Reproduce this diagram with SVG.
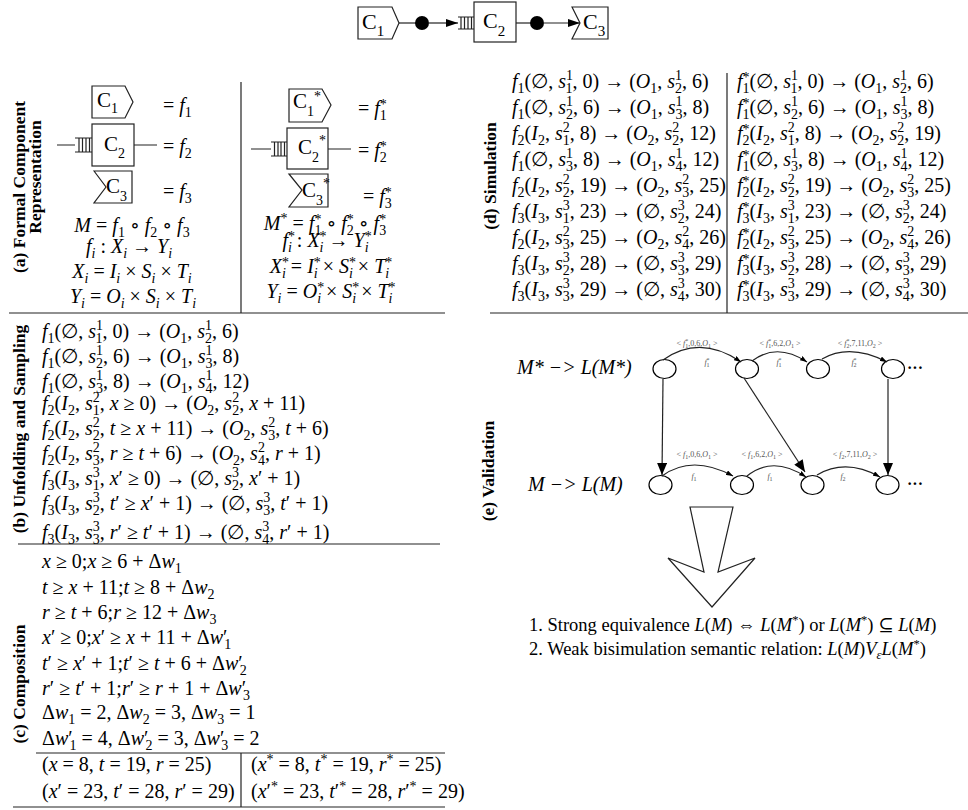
<svg xmlns="http://www.w3.org/2000/svg" width="968" height="810" viewBox="0 0 968 810">
<style>
.t{font-family:"Liberation Serif","DejaVu Serif",serif;font-size:20px;fill:#000}
.i{font-style:italic}
.s{font-size:14px}
.u{font-size:18.5px}
.s2{font-size:12.5px}
.big{font-size:20px}
.c{font-size:22px}
.cs{font-size:15px}
.lb{font-family:"Liberation Serif","DejaVu Serif",serif;font-weight:bold;font-size:17.5px;fill:#000}
.ln{stroke:#222;stroke-width:1.2;fill:none}
.bx{fill:#fff;stroke:#222;stroke-width:1.2}
.g{font-family:"Liberation Serif","DejaVu Serif",serif;font-size:8px;fill:#555}
.gs{font-size:6px}
.nd{fill:#fff;stroke:#000;stroke-width:1.2}
</style>
<defs>
<marker id="ah" viewBox="0 0 12 8" refX="12" refY="4" markerWidth="12" markerHeight="8" markerUnits="userSpaceOnUse" orient="auto"><path d="M0,0 L12,4 L0,8 z" fill="#000"/></marker>
<marker id="av" viewBox="0 0 12 10" refX="12" refY="5" markerWidth="14" markerHeight="10" markerUnits="userSpaceOnUse" orient="auto"><path d="M0,0 L12,5 L0,10 z" fill="#000"/></marker>
<marker id="as" viewBox="0 0 7 5" refX="7" refY="2.5" markerWidth="7" markerHeight="5" markerUnits="userSpaceOnUse" orient="auto"><path d="M0,0 L7,2.5 L0,5 z" fill="#000"/></marker>
</defs>

<!-- top strip -->
<g id="top-c1"><polygon class="bx" points="358,7 392,7 399,23 392,39 358,39"/><text class="t c" x="362" y="29">C<tspan class="cs" dy="7">1</tspan></text></g>
<g id="top-c2"><rect class="bx" x="474" y="2" width="42" height="40"/><text class="t c" x="483" y="28">C<tspan class="cs" dy="8">2</tspan></text></g>
<g id="top-c3"><polygon class="bx" points="572,7 580,23 572,39 608,39 608,7"/><text class="t c" x="583" y="29">C<tspan class="cs" dy="7">3</tspan></text></g>
<g id="top-connectors">
<line class="ln" x1="399" y1="23" x2="416" y2="23"/>
<circle cx="422" cy="23" r="7" fill="#000"/>
<line class="ln" x1="428" y1="23" x2="458" y2="23" marker-end="url(#ah)"/>
<path class="ln" d="M458,17 H474 M458,29 H474 M461,17 V29 M464.5,17 V29 M468,17 V29 M471.5,17 V29"/>
<line class="ln" x1="516" y1="23" x2="531" y2="23"/>
<circle cx="537" cy="23" r="7" fill="#000"/>
<line class="ln" x1="543" y1="23" x2="580" y2="23" marker-end="url(#ah)"/>
</g>

<!-- panel lines -->
<g id="panel-lines">
<line class="ln" x1="9" y1="313" x2="445" y2="313"/>
<line class="ln" x1="490" y1="313" x2="968" y2="313"/>
<line class="ln" x1="241" y1="82" x2="241" y2="313"/>
<line class="ln" x1="727" y1="73" x2="727" y2="313"/>
<line class="ln" x1="18" y1="544" x2="440" y2="544"/>
<line class="ln" x1="36" y1="753" x2="445" y2="753"/>
<line class="ln" x1="13" y1="807" x2="445" y2="807"/>
<line class="ln" x1="241" y1="753" x2="241" y2="807"/>
</g>

<!-- labels -->
<g id="labels">
<text class="lb" transform="translate(25,187) rotate(-90)" text-anchor="middle">(a) Formal Component</text>
<text class="lb" transform="translate(41,177) rotate(-90)" text-anchor="middle">Representation</text>
<text class="lb" transform="translate(25,429) rotate(-90)" text-anchor="middle">(b) Unfolding and Sampling</text>
<text class="lb" transform="translate(25,684) rotate(-90)" text-anchor="middle">(c) Composition</text>
<text class="lb" transform="translate(496,176) rotate(-90)" text-anchor="middle">(d) Simulation</text>
<text class="lb" transform="translate(494,471) rotate(-90)" text-anchor="middle">(e) Validation</text>
</g>

<!-- panel (a) -->
<g id="panel-a">
<g id="a-c1"><polygon class="bx" points="92,86 125,86 133,102 125,118 92,118"/><text class="t" style="font-size:21px" x="97" y="107">C<tspan class="s" dy="6">1</tspan></text></g>
<g id="a-c2"><rect class="bx" x="92" y="124" width="42" height="42"/><text class="t" style="font-size:21px" x="104" y="151">C<tspan class="s" dy="7">2</tspan></text>
<path class="ln" d="M57,145 H75 M75,138 H92 M75,152 H92 M79,138 V152 M82.5,138 V152 M86,138 V152 M89.5,138 V152 M134,145 H157"/></g>
<g id="a-c3"><polygon class="bx" points="94,171 106,187 94,203 132,203 132,171"/><text class="t" style="font-size:21px" x="106" y="193">C<tspan class="s" dy="8">3</tspan></text></g>
<text class="t" x="163" y="112">= <tspan class="i">f</tspan><tspan class="s" dy="5">1</tspan></text>
<text class="t" x="163" y="153">= <tspan class="i">f</tspan><tspan class="s" dy="5">2</tspan></text>
<text class="t" x="163" y="198">= <tspan class="i">f</tspan><tspan class="s" dy="5">3</tspan></text>
<text class="t" x="132" y="232" text-anchor="middle"><tspan class="i">M</tspan> = <tspan class="i">f</tspan><tspan class="s" dy="5">1</tspan><tspan dy="-5"> ∘ </tspan><tspan class="i">f</tspan><tspan class="s" dy="5">2</tspan><tspan dy="-5"> ∘ </tspan><tspan class="i">f</tspan><tspan class="s" dy="5">3</tspan></text>
<text class="t" x="129" y="253" text-anchor="middle"><tspan class="i">f</tspan><tspan class="s i" dy="5">i</tspan><tspan dy="-5"> : </tspan><tspan class="i">X</tspan><tspan class="s i" dy="5">i</tspan><tspan dy="-5"> → </tspan><tspan class="i">Y</tspan><tspan class="s i" dy="5">i</tspan></text>
<text class="t" x="132" y="278" text-anchor="middle"><tspan class="i">X</tspan><tspan class="s i" dy="5">i</tspan><tspan dy="-5"> = </tspan><tspan class="i">I</tspan><tspan class="s i" dy="5">i</tspan><tspan dy="-5"> × </tspan><tspan class="i">S</tspan><tspan class="s i" dy="5">i</tspan><tspan dy="-5"> × </tspan><tspan class="i">T</tspan><tspan class="s i" dy="5">i</tspan></text>
<text class="t" x="133" y="303" text-anchor="middle"><tspan class="i">Y</tspan><tspan class="s i" dy="5">i</tspan><tspan dy="-5"> = </tspan><tspan class="i">O</tspan><tspan class="s i" dy="5">i</tspan><tspan dy="-5"> × </tspan><tspan class="i">S</tspan><tspan class="s i" dy="5">i</tspan><tspan dy="-5"> × </tspan><tspan class="i">T</tspan><tspan class="s i" dy="5">i</tspan></text>

<g id="a-c1s"><polygon class="bx" points="289,89 322,89 331,105 322,122 289,122"/><text class="t" style="font-size:21px" x="293" y="108">C<tspan class="s" dy="8">1</tspan><tspan class="s" dy="-15">*</tspan></text></g>
<g id="a-c2s"><rect class="bx" x="287" y="128" width="41" height="41"/><text class="t" style="font-size:21px" x="298" y="154">C<tspan class="s" dy="8">2</tspan><tspan class="s" dy="-17">*</tspan></text>
<path class="ln" d="M251,149 H271 M271,142 H287 M271,156 H287 M274.5,142 V156 M278,142 V156 M281,142 V156 M284.5,142 V156 M328,149 H351"/></g>
<g id="a-c3s"><polygon class="bx" points="289,174 302,190 289,207 328,207 328,174"/><text class="t" style="font-size:21px" x="302" y="197">C<tspan class="s" dy="8">3</tspan><tspan class="s" dy="-17">*</tspan></text></g>
<text class="t" x="358" y="115">= <tspan class="i">f</tspan><tspan class="s" dy="-6">*</tspan><tspan class="s" dx="-7" dy="11">1</tspan></text>
<text class="t" x="358" y="157">= <tspan class="i">f</tspan><tspan class="s" dy="-6">*</tspan><tspan class="s" dx="-7" dy="11">2</tspan></text>
<text class="t" x="363" y="203">= <tspan class="i">f</tspan><tspan class="s" dy="-6">*</tspan><tspan class="s" dx="-7" dy="11">3</tspan></text>
<text class="t" x="325" y="230" text-anchor="middle"><tspan class="i">M</tspan><tspan class="s" dy="-7">*</tspan><tspan dy="7"> = </tspan><tspan class="i">f</tspan><tspan class="s" dy="-6">*</tspan><tspan class="s" dx="-7" dy="11">1</tspan><tspan dy="-5"> ∘ </tspan><tspan class="i">f</tspan><tspan class="s" dy="-6">*</tspan><tspan class="s" dx="-7" dy="11">2</tspan><tspan dy="-5"> ∘ </tspan><tspan class="i">f</tspan><tspan class="s" dy="-6">*</tspan><tspan class="s" dx="-7" dy="11">3</tspan></text>
<text class="t" x="327" y="247" text-anchor="middle"><tspan class="i">f</tspan><tspan class="s" dy="-6">*</tspan><tspan class="s i" dx="-7" dy="11">i</tspan><tspan dy="-5"> : </tspan><tspan class="i">X</tspan><tspan class="s" dy="-6">*</tspan><tspan class="s i" dx="-7" dy="11">i</tspan><tspan dy="-5"> → </tspan><tspan class="i">Y</tspan><tspan class="s" dy="-6">*</tspan><tspan class="s i" dx="-7" dy="11">i</tspan></text>
<text class="t" x="331" y="273" text-anchor="middle"><tspan class="i">X</tspan><tspan class="s" dy="-6">*</tspan><tspan class="s i" dx="-7" dy="11">i</tspan><tspan dy="-5"> = </tspan><tspan class="i">I</tspan><tspan class="s" dy="-6">*</tspan><tspan class="s i" dx="-7" dy="11">i</tspan><tspan dy="-5"> × </tspan><tspan class="i">S</tspan><tspan class="s" dy="-6">*</tspan><tspan class="s i" dx="-7" dy="11">i</tspan><tspan dy="-5"> × </tspan><tspan class="i">T</tspan><tspan class="s" dy="-6">*</tspan><tspan class="s i" dx="-7" dy="11">i</tspan></text>
<text class="t" x="331" y="298" text-anchor="middle"><tspan class="i">Y</tspan><tspan class="s i" dy="5">i</tspan><tspan dy="-5"> = </tspan><tspan class="i">O</tspan><tspan class="s" dy="-6">*</tspan><tspan class="s i" dx="-7" dy="11">i</tspan><tspan dy="-5"> × </tspan><tspan class="i">S</tspan><tspan class="s" dy="-6">*</tspan><tspan class="s i" dx="-7" dy="11">i</tspan><tspan dy="-5"> × </tspan><tspan class="i">T</tspan><tspan class="s" dy="-6">*</tspan><tspan class="s i" dx="-7" dy="11">i</tspan></text>
</g>

<!-- panel (b) -->
<g id="panel-b">
<text class="t" x="42" y="338"><tspan class="i">f</tspan><tspan class="s" dy="5">1</tspan><tspan dy="-5">(∅, </tspan><tspan class="i">s</tspan><tspan class="s" dy="-8">1</tspan><tspan class="s" dx="-7" dy="13">1</tspan><tspan dy="-5">, 0) → (</tspan><tspan class="i">O</tspan><tspan class="s" dy="5">1</tspan><tspan dy="-5">, </tspan><tspan class="i">s</tspan><tspan class="s" dy="-8">1</tspan><tspan class="s" dx="-7" dy="13">2</tspan><tspan dy="-5">, 6)</tspan></text>
<text class="t" x="42" y="363"><tspan class="i">f</tspan><tspan class="s" dy="5">1</tspan><tspan dy="-5">(∅, </tspan><tspan class="i">s</tspan><tspan class="s" dy="-8">1</tspan><tspan class="s" dx="-7" dy="13">2</tspan><tspan dy="-5">, 6) → (</tspan><tspan class="i">O</tspan><tspan class="s" dy="5">1</tspan><tspan dy="-5">, </tspan><tspan class="i">s</tspan><tspan class="s" dy="-8">1</tspan><tspan class="s" dx="-7" dy="13">3</tspan><tspan dy="-5">, 8)</tspan></text>
<text class="t" x="42" y="388"><tspan class="i">f</tspan><tspan class="s" dy="5">1</tspan><tspan dy="-5">(∅, </tspan><tspan class="i">s</tspan><tspan class="s" dy="-8">1</tspan><tspan class="s" dx="-7" dy="13">3</tspan><tspan dy="-5">, 8) → (</tspan><tspan class="i">O</tspan><tspan class="s" dy="5">1</tspan><tspan dy="-5">, </tspan><tspan class="i">s</tspan><tspan class="s" dy="-8">1</tspan><tspan class="s" dx="-7" dy="13">4</tspan><tspan dy="-5">, 12)</tspan></text>
<text class="t" x="42" y="410"><tspan class="i">f</tspan><tspan class="s" dy="5">2</tspan><tspan dy="-5">(</tspan><tspan class="i">I</tspan><tspan class="s" dy="5">2</tspan><tspan dy="-5">, </tspan><tspan class="i">s</tspan><tspan class="s" dy="-8">2</tspan><tspan class="s" dx="-7" dy="13">1</tspan><tspan dy="-5">, </tspan><tspan class="i">x</tspan> ≥ 0) → (<tspan class="i">O</tspan><tspan class="s" dy="5">2</tspan><tspan dy="-5">, </tspan><tspan class="i">s</tspan><tspan class="s" dy="-8">2</tspan><tspan class="s" dx="-7" dy="13">2</tspan><tspan dy="-5">, </tspan><tspan class="i">x</tspan> + 11)</text>
<text class="t" x="42" y="435"><tspan class="i">f</tspan><tspan class="s" dy="5">2</tspan><tspan dy="-5">(</tspan><tspan class="i">I</tspan><tspan class="s" dy="5">2</tspan><tspan dy="-5">, </tspan><tspan class="i">s</tspan><tspan class="s" dy="-8">2</tspan><tspan class="s" dx="-7" dy="13">2</tspan><tspan dy="-5">, </tspan><tspan class="i">t</tspan> ≥ <tspan class="i">x</tspan> + 11) → (<tspan class="i">O</tspan><tspan class="s" dy="5">2</tspan><tspan dy="-5">, </tspan><tspan class="i">s</tspan><tspan class="s" dy="-8">2</tspan><tspan class="s" dx="-7" dy="13">3</tspan><tspan dy="-5">, </tspan><tspan class="i">t</tspan> + 6)</text>
<text class="t" x="42" y="460"><tspan class="i">f</tspan><tspan class="s" dy="5">2</tspan><tspan dy="-5">(</tspan><tspan class="i">I</tspan><tspan class="s" dy="5">2</tspan><tspan dy="-5">, </tspan><tspan class="i">s</tspan><tspan class="s" dy="-8">2</tspan><tspan class="s" dx="-7" dy="13">3</tspan><tspan dy="-5">, </tspan><tspan class="i">r</tspan> ≥ <tspan class="i">t</tspan> + 6) → (<tspan class="i">O</tspan><tspan class="s" dy="5">2</tspan><tspan dy="-5">, </tspan><tspan class="i">s</tspan><tspan class="s" dy="-8">2</tspan><tspan class="s" dx="-7" dy="13">4</tspan><tspan dy="-5">, </tspan><tspan class="i">r</tspan> + 1)</text>
<text class="t" x="42" y="485"><tspan class="i">f</tspan><tspan class="s" dy="5">3</tspan><tspan dy="-5">(</tspan><tspan class="i">I</tspan><tspan class="s" dy="5">3</tspan><tspan dy="-5">, </tspan><tspan class="i">s</tspan><tspan class="s" dy="-8">3</tspan><tspan class="s" dx="-7" dy="13">1</tspan><tspan dy="-5">, </tspan><tspan class="i">x</tspan>′ ≥ 0) → (∅, <tspan class="i">s</tspan><tspan class="s" dy="-8">3</tspan><tspan class="s" dx="-7" dy="13">2</tspan><tspan dy="-5">, </tspan><tspan class="i">x</tspan>′ + 1)</text>
<text class="t" x="42" y="510"><tspan class="i">f</tspan><tspan class="s" dy="5">3</tspan><tspan dy="-5">(</tspan><tspan class="i">I</tspan><tspan class="s" dy="5">3</tspan><tspan dy="-5">, </tspan><tspan class="i">s</tspan><tspan class="s" dy="-8">3</tspan><tspan class="s" dx="-7" dy="13">2</tspan><tspan dy="-5">, </tspan><tspan class="i">t</tspan>′ ≥ <tspan class="i">x</tspan>′ + 1) → (∅, <tspan class="i">s</tspan><tspan class="s" dy="-8">3</tspan><tspan class="s" dx="-7" dy="13">3</tspan><tspan dy="-5">, </tspan><tspan class="i">t</tspan>′ + 1)</text>
<text class="t" x="42" y="539"><tspan class="i">f</tspan><tspan class="s" dy="5">3</tspan><tspan dy="-5">(</tspan><tspan class="i">I</tspan><tspan class="s" dy="5">3</tspan><tspan dy="-5">, </tspan><tspan class="i">s</tspan><tspan class="s" dy="-8">3</tspan><tspan class="s" dx="-7" dy="13">3</tspan><tspan dy="-5">, </tspan><tspan class="i">r</tspan>′ ≥ <tspan class="i">t</tspan>′ + 1) → (∅, <tspan class="i">s</tspan><tspan class="s" dy="-8">3</tspan><tspan class="s" dx="-7" dy="13">4</tspan><tspan dy="-5">, </tspan><tspan class="i">r</tspan>′ + 1)</text>
</g>

<!-- panel (c) -->
<g id="panel-c">
<text class="t" x="42" y="568"><tspan class="i">x</tspan> ≥ 0;<tspan class="i">x</tspan> ≥ 6 + Δ<tspan class="i">w</tspan><tspan class="s" dy="5">1</tspan></text>
<text class="t" x="42" y="594"><tspan class="i">t</tspan> ≥ <tspan class="i">x</tspan> + 11;<tspan class="i">t</tspan> ≥ 8 + Δ<tspan class="i">w</tspan><tspan class="s" dy="5">2</tspan></text>
<text class="t" x="42" y="619"><tspan class="i">r</tspan> ≥ <tspan class="i">t</tspan> + 6;<tspan class="i">r</tspan> ≥ 12 + Δ<tspan class="i">w</tspan><tspan class="s" dy="5">3</tspan></text>
<text class="t" x="42" y="644"><tspan class="i">x</tspan>′ ≥ 0;<tspan class="i">x</tspan>′ ≥ <tspan class="i">x</tspan> + 11 + Δ<tspan class="i">w</tspan>′<tspan class="s" dx="-3" dy="5">1</tspan></text>
<text class="t" x="42" y="670"><tspan class="i">t</tspan>′ ≥ <tspan class="i">x</tspan>′ + 1;<tspan class="i">t</tspan>′ ≥ <tspan class="i">t</tspan> + 6 + Δ<tspan class="i">w</tspan>′<tspan class="s" dx="-3" dy="5">2</tspan></text>
<text class="t" x="42" y="695"><tspan class="i">r</tspan>′ ≥ <tspan class="i">t</tspan>′ + 1;<tspan class="i">r</tspan>′ ≥ <tspan class="i">r</tspan> + 1 + Δ<tspan class="i">w</tspan>′<tspan class="s" dx="-3" dy="5">3</tspan></text>
<text class="t" x="42" y="719">Δ<tspan class="i">w</tspan><tspan class="s" dy="5">1</tspan><tspan dy="-5"> = 2, Δ</tspan><tspan class="i">w</tspan><tspan class="s" dy="5">2</tspan><tspan dy="-5"> = 3, Δ</tspan><tspan class="i">w</tspan><tspan class="s" dy="5">3</tspan><tspan dy="-5"> = 1</tspan></text>
<text class="t" x="42" y="745">Δ<tspan class="i">w</tspan>′<tspan class="s" dx="-3" dy="5">1</tspan><tspan dy="-5"> = 4, Δ</tspan><tspan class="i">w</tspan>′<tspan class="s" dx="-3" dy="5">2</tspan><tspan dy="-5"> = 3, Δ</tspan><tspan class="i">w</tspan>′<tspan class="s" dx="-3" dy="5">3</tspan><tspan dy="-5"> = 2</tspan></text>
<text class="t" x="42" y="771">(<tspan class="i">x</tspan> = 8, <tspan class="i">t</tspan> = 19, <tspan class="i">r</tspan> = 25)</text>
<text class="t" x="42" y="798">(<tspan class="i">x</tspan>′ = 23, <tspan class="i">t</tspan>′ = 28, <tspan class="i">r</tspan>′ = 29)</text>
<text class="t" x="251" y="771">(<tspan class="i">x</tspan><tspan class="s" dy="-7">*</tspan><tspan dy="7"> = 8, </tspan><tspan class="i">t</tspan><tspan class="s" dy="-7">*</tspan><tspan dy="7"> = 19, </tspan><tspan class="i">r</tspan><tspan class="s" dy="-7">*</tspan><tspan dy="7"> = 25)</tspan></text>
<text class="t" x="251" y="798">(<tspan class="i">x</tspan>′<tspan class="s" dy="-7">*</tspan><tspan dy="7"> = 23, </tspan><tspan class="i">t</tspan>′<tspan class="s" dy="-7">*</tspan><tspan dy="7"> = 28, </tspan><tspan class="i">r</tspan>′<tspan class="s" dy="-7">*</tspan><tspan dy="7"> = 29)</tspan></text>
</g>

<!-- panel (d) -->
<g id="panel-d">
<text class="t" x="512" y="88"><tspan class="i">f</tspan><tspan class="s" dy="5">1</tspan><tspan dy="-5">(∅, </tspan><tspan class="i">s</tspan><tspan class="s" dy="-8">1</tspan><tspan class="s" dx="-7" dy="13">1</tspan><tspan dy="-5">, 0) → (</tspan><tspan class="i">O</tspan><tspan class="s" dy="5">1</tspan><tspan dy="-5">, </tspan><tspan class="i">s</tspan><tspan class="s" dy="-8">1</tspan><tspan class="s" dx="-7" dy="13">2</tspan><tspan dy="-5">, 6)</tspan></text>
<text class="t" x="512" y="114"><tspan class="i">f</tspan><tspan class="s" dy="5">1</tspan><tspan dy="-5">(∅, </tspan><tspan class="i">s</tspan><tspan class="s" dy="-8">1</tspan><tspan class="s" dx="-7" dy="13">2</tspan><tspan dy="-5">, 6) → (</tspan><tspan class="i">O</tspan><tspan class="s" dy="5">1</tspan><tspan dy="-5">, </tspan><tspan class="i">s</tspan><tspan class="s" dy="-8">1</tspan><tspan class="s" dx="-7" dy="13">3</tspan><tspan dy="-5">, 8)</tspan></text>
<text class="t" x="512" y="140"><tspan class="i">f</tspan><tspan class="s" dy="5">2</tspan><tspan dy="-5">(</tspan><tspan class="i">I</tspan><tspan class="s" dy="5">2</tspan><tspan dy="-5">, </tspan><tspan class="i">s</tspan><tspan class="s" dy="-8">2</tspan><tspan class="s" dx="-7" dy="13">1</tspan><tspan dy="-5">, 8) → (</tspan><tspan class="i">O</tspan><tspan class="s" dy="5">2</tspan><tspan dy="-5">, </tspan><tspan class="i">s</tspan><tspan class="s" dy="-8">2</tspan><tspan class="s" dx="-7" dy="13">2</tspan><tspan dy="-5">, 12)</tspan></text>
<text class="t" x="512" y="166"><tspan class="i">f</tspan><tspan class="s" dy="5">1</tspan><tspan dy="-5">(∅, </tspan><tspan class="i">s</tspan><tspan class="s" dy="-8">1</tspan><tspan class="s" dx="-7" dy="13">3</tspan><tspan dy="-5">, 8) → (</tspan><tspan class="i">O</tspan><tspan class="s" dy="5">1</tspan><tspan dy="-5">, </tspan><tspan class="i">s</tspan><tspan class="s" dy="-8">1</tspan><tspan class="s" dx="-7" dy="13">4</tspan><tspan dy="-5">, 12)</tspan></text>
<text class="t" x="512" y="192"><tspan class="i">f</tspan><tspan class="s" dy="5">2</tspan><tspan dy="-5">(</tspan><tspan class="i">I</tspan><tspan class="s" dy="5">2</tspan><tspan dy="-5">, </tspan><tspan class="i">s</tspan><tspan class="s" dy="-8">2</tspan><tspan class="s" dx="-7" dy="13">2</tspan><tspan dy="-5">, 19) → (</tspan><tspan class="i">O</tspan><tspan class="s" dy="5">2</tspan><tspan dy="-5">, </tspan><tspan class="i">s</tspan><tspan class="s" dy="-8">2</tspan><tspan class="s" dx="-7" dy="13">3</tspan><tspan dy="-5">, 25)</tspan></text>
<text class="t" x="512" y="218"><tspan class="i">f</tspan><tspan class="s" dy="5">3</tspan><tspan dy="-5">(</tspan><tspan class="i">I</tspan><tspan class="s" dy="5">3</tspan><tspan dy="-5">, </tspan><tspan class="i">s</tspan><tspan class="s" dy="-8">3</tspan><tspan class="s" dx="-7" dy="13">1</tspan><tspan dy="-5">, 23) → (∅, </tspan><tspan class="i">s</tspan><tspan class="s" dy="-8">3</tspan><tspan class="s" dx="-7" dy="13">2</tspan><tspan dy="-5">, 24)</tspan></text>
<text class="t" x="512" y="244"><tspan class="i">f</tspan><tspan class="s" dy="5">2</tspan><tspan dy="-5">(</tspan><tspan class="i">I</tspan><tspan class="s" dy="5">2</tspan><tspan dy="-5">, </tspan><tspan class="i">s</tspan><tspan class="s" dy="-8">2</tspan><tspan class="s" dx="-7" dy="13">3</tspan><tspan dy="-5">, 25) → (</tspan><tspan class="i">O</tspan><tspan class="s" dy="5">2</tspan><tspan dy="-5">, </tspan><tspan class="i">s</tspan><tspan class="s" dy="-8">2</tspan><tspan class="s" dx="-7" dy="13">4</tspan><tspan dy="-5">, 26)</tspan></text>
<text class="t" x="512" y="270"><tspan class="i">f</tspan><tspan class="s" dy="5">3</tspan><tspan dy="-5">(</tspan><tspan class="i">I</tspan><tspan class="s" dy="5">3</tspan><tspan dy="-5">, </tspan><tspan class="i">s</tspan><tspan class="s" dy="-8">3</tspan><tspan class="s" dx="-7" dy="13">2</tspan><tspan dy="-5">, 28) → (∅, </tspan><tspan class="i">s</tspan><tspan class="s" dy="-8">3</tspan><tspan class="s" dx="-7" dy="13">3</tspan><tspan dy="-5">, 29)</tspan></text>
<text class="t" x="512" y="296"><tspan class="i">f</tspan><tspan class="s" dy="5">3</tspan><tspan dy="-5">(</tspan><tspan class="i">I</tspan><tspan class="s" dy="5">3</tspan><tspan dy="-5">, </tspan><tspan class="i">s</tspan><tspan class="s" dy="-8">3</tspan><tspan class="s" dx="-7" dy="13">3</tspan><tspan dy="-5">, 29) → (∅, </tspan><tspan class="i">s</tspan><tspan class="s" dy="-8">3</tspan><tspan class="s" dx="-7" dy="13">4</tspan><tspan dy="-5">, 30)</tspan></text>

<text class="t" x="737" y="88"><tspan class="i">f</tspan><tspan class="s" dy="-6">*</tspan><tspan class="s" dx="-7" dy="11">1</tspan><tspan dy="-5">(∅, </tspan><tspan class="i">s</tspan><tspan class="s" dy="-8">1</tspan><tspan class="s" dx="-7" dy="13">1</tspan><tspan dy="-5">, 0) → (</tspan><tspan class="i">O</tspan><tspan class="s" dy="5">1</tspan><tspan dy="-5">, </tspan><tspan class="i">s</tspan><tspan class="s" dy="-8">1</tspan><tspan class="s" dx="-7" dy="13">2</tspan><tspan dy="-5">, 6)</tspan></text>
<text class="t" x="737" y="114"><tspan class="i">f</tspan><tspan class="s" dy="-6">*</tspan><tspan class="s" dx="-7" dy="11">1</tspan><tspan dy="-5">(∅, </tspan><tspan class="i">s</tspan><tspan class="s" dy="-8">1</tspan><tspan class="s" dx="-7" dy="13">2</tspan><tspan dy="-5">, 6) → (</tspan><tspan class="i">O</tspan><tspan class="s" dy="5">1</tspan><tspan dy="-5">, </tspan><tspan class="i">s</tspan><tspan class="s" dy="-8">1</tspan><tspan class="s" dx="-7" dy="13">3</tspan><tspan dy="-5">, 8)</tspan></text>
<text class="t" x="737" y="140"><tspan class="i">f</tspan><tspan class="s" dy="-6">*</tspan><tspan class="s" dx="-7" dy="11">2</tspan><tspan dy="-5">(</tspan><tspan class="i">I</tspan><tspan class="s" dy="5">2</tspan><tspan dy="-5">, </tspan><tspan class="i">s</tspan><tspan class="s" dy="-8">2</tspan><tspan class="s" dx="-7" dy="13">1</tspan><tspan dy="-5">, 8) → (</tspan><tspan class="i">O</tspan><tspan class="s" dy="5">2</tspan><tspan dy="-5">, </tspan><tspan class="i">s</tspan><tspan class="s" dy="-8">2</tspan><tspan class="s" dx="-7" dy="13">2</tspan><tspan dy="-5">, 19)</tspan></text>
<text class="t" x="737" y="166"><tspan class="i">f</tspan><tspan class="s" dy="-6">*</tspan><tspan class="s" dx="-7" dy="11">1</tspan><tspan dy="-5">(∅, </tspan><tspan class="i">s</tspan><tspan class="s" dy="-8">1</tspan><tspan class="s" dx="-7" dy="13">3</tspan><tspan dy="-5">, 8) → (</tspan><tspan class="i">O</tspan><tspan class="s" dy="5">1</tspan><tspan dy="-5">, </tspan><tspan class="i">s</tspan><tspan class="s" dy="-8">1</tspan><tspan class="s" dx="-7" dy="13">4</tspan><tspan dy="-5">, 12)</tspan></text>
<text class="t" x="737" y="192"><tspan class="i">f</tspan><tspan class="s" dy="-6">*</tspan><tspan class="s" dx="-7" dy="11">2</tspan><tspan dy="-5">(</tspan><tspan class="i">I</tspan><tspan class="s" dy="5">2</tspan><tspan dy="-5">, </tspan><tspan class="i">s</tspan><tspan class="s" dy="-8">2</tspan><tspan class="s" dx="-7" dy="13">2</tspan><tspan dy="-5">, 19) → (</tspan><tspan class="i">O</tspan><tspan class="s" dy="5">2</tspan><tspan dy="-5">, </tspan><tspan class="i">s</tspan><tspan class="s" dy="-8">2</tspan><tspan class="s" dx="-7" dy="13">3</tspan><tspan dy="-5">, 25)</tspan></text>
<text class="t" x="737" y="218"><tspan class="i">f</tspan><tspan class="s" dy="-6">*</tspan><tspan class="s" dx="-7" dy="11">3</tspan><tspan dy="-5">(</tspan><tspan class="i">I</tspan><tspan class="s" dy="5">3</tspan><tspan dy="-5">, </tspan><tspan class="i">s</tspan><tspan class="s" dy="-8">3</tspan><tspan class="s" dx="-7" dy="13">1</tspan><tspan dy="-5">, 23) → (∅, </tspan><tspan class="i">s</tspan><tspan class="s" dy="-8">3</tspan><tspan class="s" dx="-7" dy="13">2</tspan><tspan dy="-5">, 24)</tspan></text>
<text class="t" x="737" y="244"><tspan class="i">f</tspan><tspan class="s" dy="-6">*</tspan><tspan class="s" dx="-7" dy="11">2</tspan><tspan dy="-5">(</tspan><tspan class="i">I</tspan><tspan class="s" dy="5">2</tspan><tspan dy="-5">, </tspan><tspan class="i">s</tspan><tspan class="s" dy="-8">2</tspan><tspan class="s" dx="-7" dy="13">3</tspan><tspan dy="-5">, 25) → (</tspan><tspan class="i">O</tspan><tspan class="s" dy="5">2</tspan><tspan dy="-5">, </tspan><tspan class="i">s</tspan><tspan class="s" dy="-8">2</tspan><tspan class="s" dx="-7" dy="13">4</tspan><tspan dy="-5">, 26)</tspan></text>
<text class="t" x="737" y="270"><tspan class="i">f</tspan><tspan class="s" dy="-6">*</tspan><tspan class="s" dx="-7" dy="11">3</tspan><tspan dy="-5">(</tspan><tspan class="i">I</tspan><tspan class="s" dy="5">3</tspan><tspan dy="-5">, </tspan><tspan class="i">s</tspan><tspan class="s" dy="-8">3</tspan><tspan class="s" dx="-7" dy="13">2</tspan><tspan dy="-5">, 28) → (∅, </tspan><tspan class="i">s</tspan><tspan class="s" dy="-8">3</tspan><tspan class="s" dx="-7" dy="13">3</tspan><tspan dy="-5">, 29)</tspan></text>
<text class="t" x="737" y="296"><tspan class="i">f</tspan><tspan class="s" dy="-6">*</tspan><tspan class="s" dx="-7" dy="11">3</tspan><tspan dy="-5">(</tspan><tspan class="i">I</tspan><tspan class="s" dy="5">3</tspan><tspan dy="-5">, </tspan><tspan class="i">s</tspan><tspan class="s" dy="-8">3</tspan><tspan class="s" dx="-7" dy="13">3</tspan><tspan dy="-5">, 29) → (∅, </tspan><tspan class="i">s</tspan><tspan class="s" dy="-8">3</tspan><tspan class="s" dx="-7" dy="13">4</tspan><tspan dy="-5">, 30)</tspan></text>
</g>

<!-- panel (e) -->
<g id="panel-e">
<text class="t i big" x="517" y="374">M* −&gt; L(M*)</text>
<text class="t i big" x="528" y="491">M −&gt; L(M)</text>
<g id="n-top-1"><ellipse class="nd" cx="664.5" cy="369" rx="11.5" ry="9.5"/></g>
<g id="n-top-2"><ellipse class="nd" cx="747" cy="369" rx="11.5" ry="9.5"/></g>
<g id="n-top-3"><ellipse class="nd" cx="818" cy="369" rx="11.5" ry="9.5"/></g>
<g id="n-top-4"><ellipse class="nd" cx="893" cy="369" rx="11.5" ry="9.5"/></g>
<g id="n-bot-1"><ellipse class="nd" cx="660.5" cy="485" rx="11.5" ry="9.5"/></g>
<g id="n-bot-2"><ellipse class="nd" cx="742" cy="485" rx="11.5" ry="9.5"/></g>
<g id="n-bot-3"><ellipse class="nd" cx="812.5" cy="485" rx="11.5" ry="9.5"/></g>
<g id="n-bot-4"><ellipse class="nd" cx="887.5" cy="485" rx="11.5" ry="9.5"/></g>
<text class="t" style="font-size:16px;font-weight:bold" x="907" y="373">···</text>
<text class="t" style="font-size:16px;font-weight:bold" x="907" y="489">···</text>
<g class="g" text-anchor="middle">
<text x="697" y="346">&lt; <tspan class="i">f</tspan><tspan class="gs" dy="-3">*</tspan><tspan class="gs" dx="-3" dy="5">1</tspan><tspan dy="-2">,0,6,</tspan><tspan class="i">O</tspan><tspan class="gs" dy="2">1</tspan><tspan dy="-2"> &gt;</tspan></text>
<text x="780" y="346">&lt; <tspan class="i">f</tspan><tspan class="gs" dy="-3">*</tspan><tspan class="gs" dx="-3" dy="5">1</tspan><tspan dy="-2">,6,2,</tspan><tspan class="i">O</tspan><tspan class="gs" dy="2">1</tspan><tspan dy="-2"> &gt;</tspan></text>
<text x="860" y="346">&lt; <tspan class="i">f</tspan><tspan class="gs" dy="-3">*</tspan><tspan class="gs" dx="-3" dy="5">2</tspan><tspan dy="-2">,7,11,</tspan><tspan class="i">O</tspan><tspan class="gs" dy="2">2</tspan><tspan dy="-2"> &gt;</tspan></text>
<text x="707" y="365"><tspan class="i">f</tspan><tspan class="gs" dy="-3">*</tspan><tspan class="gs" dx="-3" dy="5">1</tspan></text>
<text x="779" y="365"><tspan class="i">f</tspan><tspan class="gs" dy="-3">*</tspan><tspan class="gs" dx="-3" dy="5">1</tspan></text>
<text x="854" y="365"><tspan class="i">f</tspan><tspan class="gs" dy="-3">*</tspan><tspan class="gs" dx="-3" dy="5">2</tspan></text>
<text x="697" y="457">&lt; <tspan class="i">f</tspan><tspan class="gs" dy="2">1</tspan><tspan dy="-2">,0,6,</tspan><tspan class="i">O</tspan><tspan class="gs" dy="2">1</tspan><tspan dy="-2"> &gt;</tspan></text>
<text x="762" y="457">&lt; <tspan class="i">f</tspan><tspan class="gs" dy="2">1</tspan><tspan dy="-2">,6,2,</tspan><tspan class="i">O</tspan><tspan class="gs" dy="2">1</tspan><tspan dy="-2"> &gt;</tspan></text>
<text x="855" y="457">&lt; <tspan class="i">f</tspan><tspan class="gs" dy="2">2</tspan><tspan dy="-2">,7,11,</tspan><tspan class="i">O</tspan><tspan class="gs" dy="2">2</tspan><tspan dy="-2"> &gt;</tspan></text>
<text x="694" y="479"><tspan class="i">f</tspan><tspan class="gs" dy="2">1</tspan></text>
<text x="770" y="479"><tspan class="i">f</tspan><tspan class="gs" dy="2">1</tspan></text>
<text x="843" y="479"><tspan class="i">f</tspan><tspan class="gs" dy="2">2</tspan></text>
</g>
<polygon class="bx" points="690,507 733,507 718,572 755,558 712,607 668,558 704,572"/>
</g>

<g id="connectors">
<path class="ln" d="M663,360 Q700,334 741,362" marker-end="url(#as)"/>
<path class="ln" d="M752,361 Q777,342 807,362" marker-end="url(#as)"/>
<path class="ln" d="M822,359 Q850,343 887,362" marker-end="url(#as)"/>
<path class="ln" d="M662,476 Q692,454 733,476" marker-end="url(#as)"/>
<path class="ln" d="M747,476 Q773,455 806,477" marker-end="url(#as)"/>
<path class="ln" d="M817,475 Q846,458 880,477" marker-end="url(#as)"/>
<line class="ln" x1="663" y1="379" x2="662" y2="475" marker-end="url(#av)"/>
<line class="ln" x1="744" y1="378" x2="805" y2="472" marker-end="url(#av)"/>
<line class="ln" x1="888" y1="379" x2="888" y2="475" marker-end="url(#av)"/>
</g>

<!-- conclusions -->
<g id="conclusions">
<text class="t u" x="529" y="631">1. Strong equivalence <tspan class="i">L</tspan>(<tspan class="i">M</tspan>) ⇔ <tspan class="i">L</tspan>(<tspan class="i">M</tspan><tspan class="s2" dy="-7">*</tspan><tspan dy="7">) or </tspan><tspan class="i">L</tspan>(<tspan class="i">M</tspan><tspan class="s2" dy="-7">*</tspan><tspan dy="7">) ⊆ </tspan><tspan class="i">L</tspan>(<tspan class="i">M</tspan>)</text>
<text class="t u" x="529" y="655">2. Weak bisimulation semantic relation: <tspan class="i">L</tspan>(<tspan class="i">M</tspan>)<tspan class="i">V</tspan><tspan class="s2 i" dy="4">ε</tspan><tspan dy="-4" class="i">L</tspan>(<tspan class="i">M</tspan><tspan class="s2" dy="-7">*</tspan><tspan dy="7">)</tspan></text>
</g>
</svg>
